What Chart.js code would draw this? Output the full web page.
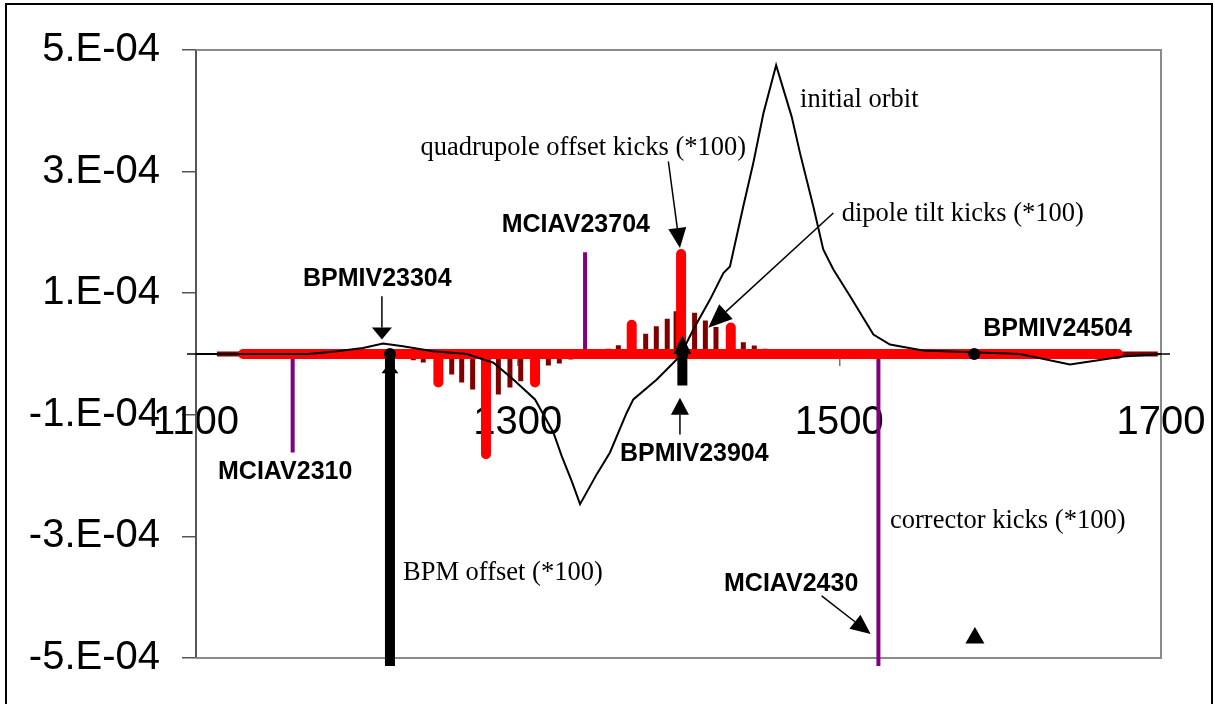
<!DOCTYPE html>
<html>
<head>
<meta charset="utf-8">
<script src="https://cdn.jsdelivr.net/npm/chart.js@4.4.1/dist/chart.umd.min.js"></script>
<style>
  html, body { margin: 0; padding: 0; background: #fff; }
  #wrap { width: 1215px; height: 704px; }
  canvas { display: block; }
</style>
</head>
<body>
<div id="wrap"><canvas id="c" width="1215" height="704"></canvas></div>
<script>
// ---- axis ticks ----
const xTicks = [1100, 1300, 1500, 1700];
const yTicks = [-5e-4, -3e-4, -1e-4, 1e-4, 3e-4, 5e-4];

// ---- initial orbit (position s, vertical offset) ----
const orbitS = [1100, 1170, 1187.7, 1203.8, 1216.3, 1228.7, 1247.4, 1268.3, 1284.9, 1297.3, 1310.8, 1322.2,
                1327.4, 1333.6, 1338.8, 1349.1, 1357.4, 1367.8, 1371.9, 1386.5, 1400.9, 1409.2, 1419.6,
                1427.9, 1432.0, 1440.3, 1446.5, 1452.8, 1460.7, 1470.4, 1475.6, 1483.8, 1490.0, 1496.3,
                1506.7, 1521.2, 1531.5, 1552.0, 1612.3, 1643.4, 1676.4, 1700];
const orbitY = [0, 0, 4.6e-6, 1.0e-5, 1.72e-5, 1.28e-5, 4.6e-6, 0, -1.44e-5, -4.19e-5, -7.47e-5, -1.29e-4,
                -1.68e-4, -2.09e-4, -2.47e-4, -1.98e-4, -1.62e-4, -9.66e-5, -7.47e-5, -4.19e-5, -3.6e-6, 4.02e-5, 8.95e-5,
                1.33e-4, 1.44e-4, 2.43e-4, 3.14e-4, 3.96e-4, 4.75e-4, 3.90e-4, 3.30e-4, 2.43e-4, 1.72e-4, 1.39e-4,
                9.49e-5, 3.2e-5, 1.56e-5, 5.7e-6, 0, -1.72e-5, -4e-6, 0];

// ---- quadrupole offset kicks (*100) ----
const quadS    = [1250.7, 1280.3, 1310.8, 1370.9, 1401.6, 1432.5];
const quadKick = [-4.7e-5, -1.65e-4, -4.7e-5, 4.8e-5, 1.645e-4, 4.35e-5];
const quadSpan = [1129.2, 1673.3];

// ---- dipole tilt kicks (*100) ----
const dipoleS    = [1235.1, 1241.3, 1259.0, 1265.2, 1272.0, 1288.0, 1295.2, 1301.9, 1319.1, 1325.9, 1333.0, 1340.8,
                    1356.4, 1362.6, 1379.6, 1386.2, 1393.0, 1398.5, 1410.0, 1416.7, 1423.3, 1440.3, 1447.1, 1453.8];
const dipoleKick = [-1.02e-5, -1.40e-5, -3.37e-5, -4.68e-5, -5.83e-5, -6.65e-5, -5.50e-5, -4.47e-5, -1.89e-5, -1.56e-5, -9.0e-6, -5.7e-6,
                    8.5e-6, 1.44e-5, 3.33e-5, 4.56e-5, 5.78e-5, 7.03e-5, 6.77e-5, 5.53e-5, 4.43e-5, 1.94e-5, 1.40e-5, 8.5e-6];
const dipoleSpan = [1113, 1698];

// ---- corrector kicks (*100) ----
const corrS    = [1160.1, 1341.9, 1524.3];
const corrKick = [-1.62e-4, 1.672e-4, -5.13e-4];

// ---- BPMs and BPM offsets (*100) ----
const bpmS      = [1220.6, 1402.4, 1583.9];
const bpmS_off  = [1220.6, 1402.4];
const bpmOffset = [-5.13e-4, -5.2e-5];
const flagS     = [1584.3];
const flagY     = [-4.67e-4];

// ---- callout labels ----
const serifLabels = [
  { text: 'initial orbit', s: 1475.6, v: 4.07e-4 },
  { text: 'quadrupole offset kicks (*100)', s: 1239.6, v: 3.276e-4 },
  { text: 'dipole tilt kicks (*100)', s: 1501.5, v: 2.18e-4 },
  { text: 'corrector kicks (*100)', s: 1531.5, v: -2.854e-4 },
  { text: 'BPM offset (*100)', s: 1228.7, v: -3.72e-4 }
];
const boldLabels = [
  { text: 'BPMIV23304', s: 1166.5, v: 1.125e-4 },
  { text: 'MCIAV23704', s: 1290.1, v: 2.0e-4 },
  { text: 'MCIAV2310',  s: 1113.7, v: -2.05e-4 },
  { text: 'BPMIV23904', s: 1363.6, v: -1.76e-4 },
  { text: 'BPMIV24504', s: 1589.5, v: 3.04e-5 },
  { text: 'MCIAV2430',  s: 1428.3, v: -3.895e-4 }
];
// arrows: from -> to (tip), in axis units
const arrows = [
  { from: [1215.6, 9.49e-5],  to: [1215.6, 2.38e-5],  lw: 1.5, len: 12, wid: 20 },
  { from: [1393.7, 3.166e-4], to: [1400.9, 1.744e-4], lw: 1.5, len: 20, wid: 18 },
  { from: [1496.3, 2.318e-4], to: [1418.5, 4.3e-5],   lw: 1.5, len: 24, wid: 20 },
  { from: [1400.9, -1.322e-4], to: [1400.9, -7.19e-5], lw: 1.5, len: 17, wid: 18 },
  { from: [1489.0, -3.977e-4], to: [1519.5, -4.606e-4], lw: 1.5, len: 20, wid: 18 },
  // heads on the BPM offset bars
  { from: [1220.6, -3.2e-5], to: [1220.6, -1.35e-5], lw: 0, len: 11, wid: 17 },
  { from: [1402.4, 0],       to: [1402.4, 3.0e-5],   lw: 0, len: 18, wid: 18 }
];

function spikeLine(s, v, span) {
  const pts = [];
  if (span) pts.push({ x: span[0], y: 0 });
  s.forEach((x, i) => {
    pts.push({ x: x, y: 0 }, { x: x, y: v[i] });
    if (span) pts.push({ x: x, y: 0 });
    else pts.push({ x: x, y: null });
  });
  if (span) pts.push({ x: span[1], y: 0 });
  return pts;
}
function sci(v) {
  const e = Math.floor(Math.log10(Math.abs(v)) + 1e-9);
  const m = Math.round(v / Math.pow(10, e));
  return m + '.E' + (e < 0 ? '-' : '+') + String(Math.abs(e)).padStart(2, '0');
}

const SANS = '"Liberation Sans", Arial, sans-serif';
const SERIF = '"Liberation Serif", "Times New Roman", serif';

const framePlugin = {
  id: 'frame',
  beforeDraw(chart) {
    const ctx = chart.ctx;
    ctx.save();
    ctx.fillStyle = '#fff';
    ctx.fillRect(0, 0, chart.width, chart.height);
    ctx.strokeStyle = '#000';
    ctx.lineWidth = 2;
    ctx.strokeRect(6, 4, 1206, 740);
    ctx.restore();
  },
  beforeDatasetsDraw(chart) {
    const ctx = chart.ctx, a = chart.chartArea;
    const y0 = chart.scales.y.getPixelForValue(0);
    ctx.save();
    ctx.strokeStyle = '#8a8a8a';
    ctx.lineWidth = 2;
    ctx.beginPath();
    ctx.moveTo(a.left, a.top); ctx.lineTo(a.right, a.top);
    ctx.lineTo(a.right, a.bottom); ctx.lineTo(a.left, a.bottom);
    ctx.stroke();
    ctx.strokeStyle = '#000';
    ctx.lineWidth = 1.5;
    ctx.beginPath();
    ctx.moveTo(a.left - 9, y0); ctx.lineTo(a.right + 9, y0);
    ctx.stroke();
    ctx.restore();
  }
};

const calloutPlugin = {
  id: 'callouts',
  afterDatasetsDraw(chart) {
    const ctx = chart.ctx, xs = chart.scales.x, ys = chart.scales.y;
    ctx.save();
    ctx.fillStyle = '#000';
    ctx.strokeStyle = '#000';
    arrows.forEach(a => {
      const x1 = xs.getPixelForValue(a.from[0]), y1 = ys.getPixelForValue(a.from[1]);
      const x2 = xs.getPixelForValue(a.to[0]),   y2 = ys.getPixelForValue(a.to[1]);
      const ang = Math.atan2(y2 - y1, x2 - x1);
      const bx = x2 - Math.cos(ang) * a.len, by = y2 - Math.sin(ang) * a.len;
      if (a.lw > 0) {
        ctx.lineWidth = a.lw;
        ctx.beginPath(); ctx.moveTo(x1, y1); ctx.lineTo(bx, by); ctx.stroke();
      }
      const px = -Math.sin(ang) * a.wid / 2, py = Math.cos(ang) * a.wid / 2;
      ctx.beginPath();
      ctx.moveTo(x2, y2); ctx.lineTo(bx + px, by + py); ctx.lineTo(bx - px, by - py);
      ctx.closePath(); ctx.fill();
    });
    ctx.textBaseline = 'alphabetic';
    ctx.textAlign = 'left';
    ctx.font = '26.5px ' + SERIF;
    serifLabels.forEach(l => ctx.fillText(l.text, xs.getPixelForValue(l.s), ys.getPixelForValue(l.v)));
    ctx.font = 'bold 25px ' + SANS;
    boldLabels.forEach(l => ctx.fillText(l.text, xs.getPixelForValue(l.s), ys.getPixelForValue(l.v)));
    ctx.restore();
  }
};

new Chart(document.getElementById('c'), {
  type: 'line',
  data: {
    datasets: [
      { label: 'BPM', data: bpmS.map(s => ({ x: s, y: 0 })), showLine: false,
        pointRadius: 6, pointBackgroundColor: '#000', pointBorderWidth: 0, order: 0 },
      { label: 'BPM marker', data: flagS.map((s, i) => ({ x: s, y: flagY[i] })), showLine: false,
        pointStyle: 'triangle', pointRadius: 11, pointBackgroundColor: '#000', pointBorderWidth: 0, order: 0 },
      { label: 'BPM offset (*100)', data: spikeLine(bpmS_off, bpmOffset, null), borderColor: '#000',
        borderWidth: 10, borderCapStyle: 'butt', spanGaps: false, pointRadius: 0, clip: false, order: 1 },
      { label: 'initial orbit', data: orbitS.map((s, i) => ({ x: s, y: orbitY[i] })), borderColor: '#000',
        borderWidth: 2, pointRadius: 0, tension: 0, order: 2 },
      { label: 'quadrupole offset kicks (*100)', data: spikeLine(quadS, quadKick, quadSpan), borderColor: '#ff0000',
        borderWidth: 10, borderCapStyle: 'round', borderJoinStyle: 'round', pointRadius: 0, order: 3 },
      { label: 'dipole tilt kicks (*100)', data: spikeLine(dipoleS, dipoleKick, dipoleSpan), borderColor: '#800000',
        borderWidth: 5, borderCapStyle: 'butt', borderJoinStyle: 'bevel', pointRadius: 0, order: 4 },
      { label: 'corrector kicks (*100)', data: spikeLine(corrS, corrKick, null), borderColor: '#800080',
        borderWidth: 4, borderCapStyle: 'butt', spanGaps: false, pointRadius: 0, clip: false, order: 5 }
    ]
  },
  options: {
    responsive: false,
    animation: false,
    devicePixelRatio: 1,
    layout: { autoPadding: false, padding: { left: 0, top: 50, right: 54, bottom: 45 } },
    plugins: { legend: { display: false }, tooltip: { enabled: false } },
    elements: { point: { radius: 0, hoverRadius: 0 } },
    scales: {
      x: {
        type: 'linear', min: 1100, max: 1700, position: { y: 0 },
        afterBuildTicks: s => { s.ticks = xTicks.map(v => ({ value: v })); },
        afterFit: s => { s.paddingLeft = 0; s.paddingRight = 0; },
        ticks: { font: { family: SANS, size: 40 }, color: '#000', padding: 33, maxRotation: 0, autoSkip: false,
                 callback: v => String(v) },
        grid: { drawOnChartArea: false, tickLength: 12, color: '#777', lineWidth: 1.5 },
        border: { display: false }
      },
      y: {
        type: 'linear', min: -5e-4, max: 5e-4, position: 'left',
        afterBuildTicks: s => { s.ticks = yTicks.map(v => ({ value: v })); },
        afterFit: s => { s.width = 196; },
        ticks: { font: { family: SANS, size: 40 }, color: '#000', padding: 22, callback: v => sci(v) },
        grid: { drawOnChartArea: false, tickLength: 14, color: '#555', lineWidth: 1.5 },
        border: { display: true, color: '#555', width: 2 }
      }
    }
  },
  plugins: [framePlugin, calloutPlugin]
});
</script>
</body>
</html>
